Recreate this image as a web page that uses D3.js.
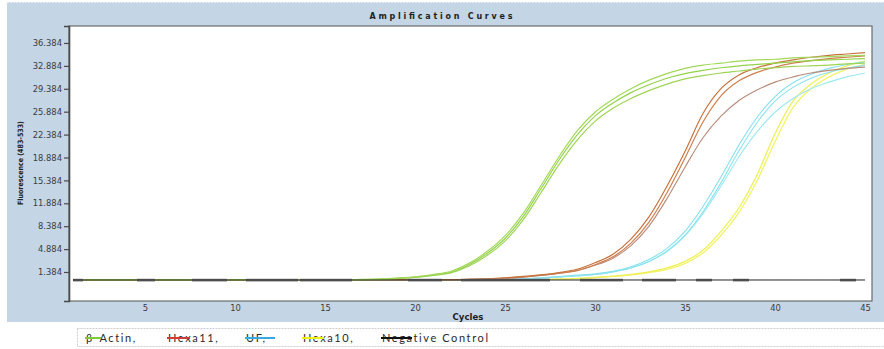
<!DOCTYPE html>
<html>
<head>
<meta charset="utf-8">
<script src="https://cdn.jsdelivr.net/npm/d3@7"></script>
<style>
  body { margin: 0; background: #ffffff; }
  svg { display: block; }
</style>
</head>
<body>
<svg id="chart" width="884" height="349"></svg>
<script>
// Cycle numbers 1..45
const cycles = [1,2,3,4,5,6,7,8,9,10,11,12,13,14,15,16,17,18,19,20,21,22,23,24,25,26,27,28,29,30,31,32,33,34,35,36,37,38,39,40,41,42,43,44,45];

// Fluorescence (483-533) per cycle, one array per well
const actinA = [0.2,0.2,0.2,0.2,0.2,0.2,0.2,0.2,0.2,0.2,0.2,0.2,0.2,0.2,0.2,0.2,
  0.25,0.3,0.45,0.65,1.0,1.5,2.7,4.5,6.9,10.3,14.6,19.0,22.9,25.8,27.8,29.4,30.7,31.7,32.5,33.0,33.3,33.6,33.8,33.9,34.1,34.2,34.3,34.4,34.5];
const actinB = [0.2,0.2,0.2,0.2,0.2,0.2,0.2,0.2,0.2,0.2,0.2,0.2,0.2,0.2,0.2,0.2,
  0.22,0.28,0.4,0.6,0.9,1.35,2.5,4.2,6.5,9.8,14.1,18.5,22.3,25.2,27.2,28.8,30.0,31.0,31.7,32.2,32.6,32.9,33.1,33.3,33.5,33.7,33.8,33.9,34.0];
const actinC = [0.2,0.2,0.2,0.2,0.2,0.2,0.2,0.2,0.2,0.2,0.2,0.2,0.2,0.2,0.2,0.2,
  0.22,0.26,0.38,0.55,0.85,1.25,2.3,3.9,6.1,9.3,13.5,17.8,21.5,24.4,26.4,27.9,29.1,30.1,30.9,31.4,31.8,32.1,32.4,32.6,32.8,32.9,33.0,33.2,33.3];

const hexa11A = [0.2,0.2,0.2,0.2,0.2,0.2,0.2,0.2,0.2,0.2,0.2,0.2,0.2,0.2,0.2,0.2,0.2,0.2,0.2,0.2,0.2,0.2,
  0.25,0.35,0.5,0.7,0.95,1.3,1.8,2.8,4.1,6.4,9.8,14.5,19.8,25.6,29.4,31.5,32.6,33.3,33.8,34.2,34.5,34.7,34.9];
const hexa11B = [0.2,0.2,0.2,0.2,0.2,0.2,0.2,0.2,0.2,0.2,0.2,0.2,0.2,0.2,0.2,0.2,0.2,0.2,0.2,0.2,0.2,0.2,
  0.24,0.32,0.45,0.65,0.9,1.2,1.6,2.5,3.7,5.8,9.0,13.5,18.8,24.3,28.3,30.6,31.9,32.7,33.3,33.7,34.0,34.2,34.4];
const hexa11C = [0.2,0.2,0.2,0.2,0.2,0.2,0.2,0.2,0.2,0.2,0.2,0.2,0.2,0.2,0.2,0.2,0.2,0.2,0.2,0.2,0.2,0.2,
  0.24,0.3,0.42,0.6,0.85,1.15,1.6,2.4,3.5,5.4,8.4,12.6,17.4,21.9,25.2,27.6,29.2,30.4,31.2,31.8,32.2,32.5,32.7];

const ufA = [0.2,0.2,0.2,0.2,0.2,0.2,0.2,0.2,0.2,0.2,0.2,0.2,0.2,0.2,0.2,0.2,0.2,0.2,0.2,0.2,0.2,0.2,0.2,0.2,
  0.25,0.35,0.5,0.7,0.9,1.1,1.5,2.2,3.3,5.0,7.6,11.4,15.9,20.8,25.0,28.2,30.3,31.6,32.5,33.1,33.5];
const ufB = [0.2,0.2,0.2,0.2,0.2,0.2,0.2,0.2,0.2,0.2,0.2,0.2,0.2,0.2,0.2,0.2,0.2,0.2,0.2,0.2,0.2,0.2,0.2,0.2,
  0.24,0.32,0.45,0.62,0.8,1.0,1.4,2.0,3.0,4.6,7.0,10.6,15.0,19.9,24.2,27.5,29.6,31.0,31.9,32.5,33.0];
const ufC = [0.2,0.2,0.2,0.2,0.2,0.2,0.2,0.2,0.2,0.2,0.2,0.2,0.2,0.2,0.2,0.2,0.2,0.2,0.2,0.2,0.2,0.2,0.2,0.2,
  0.24,0.3,0.42,0.6,0.78,1.0,1.4,2.0,3.0,4.5,6.9,10.3,14.5,19.0,22.8,25.8,27.9,29.4,30.4,31.2,31.8];

const hexa10A = [0.2,0.2,0.2,0.2,0.2,0.2,0.2,0.2,0.2,0.2,0.2,0.2,0.2,0.2,0.2,0.2,0.2,0.2,0.2,0.2,0.2,0.2,0.2,0.2,0.2,0.2,
  0.25,0.3,0.4,0.55,0.75,1.0,1.4,2.0,3.0,4.7,7.6,11.2,16.2,22.5,27.5,30.1,31.8,32.9,33.6];
const hexa10B = [0.2,0.2,0.2,0.2,0.2,0.2,0.2,0.2,0.2,0.2,0.2,0.2,0.2,0.2,0.2,0.2,0.2,0.2,0.2,0.2,0.2,0.2,0.2,0.2,0.2,0.2,
  0.24,0.28,0.36,0.5,0.7,0.95,1.3,1.8,2.7,4.3,7.0,10.5,15.3,21.3,26.5,29.4,31.2,32.4,33.1];

const negativeA = [0.16,0.16,0.16,0.16,0.16,0.16,0.16,0.16,0.16,0.16,0.16,0.16,0.16,0.16,0.16,0.16,0.16,0.16,0.16,0.16,0.16,0.16,0.16,
  0.16,0.16,0.16,0.16,0.16,0.16,0.16,0.16,0.16,0.16,0.16,0.16,0.16,0.16,0.16,0.16,0.16,0.16,0.16,0.16,0.16,0.16];
const negativeB = [0.14,0.14,0.14,0.14,0.14,0.14,0.14,0.14,0.14,0.14,0.14,0.14,0.14,0.14,0.14,0.14,0.14,0.14,0.14,0.14,0.14,0.14,0.14,
  0.14,0.14,0.14,0.14,0.14,0.14,0.14,0.14,0.14,0.14,0.14,0.14,0.14,0.14,0.14,0.14,0.14,0.14,0.14,0.14,0.14,0.14];

// Axis ticks
const xTickValues = [5, 10, 15, 20, 25, 30, 35, 40, 45];
const yTickValues = [1.384, 4.884, 8.384, 11.884, 15.384, 18.884, 22.384, 25.884, 29.384, 32.884, 36.384];

// Legend entries
const legendLabels = ["\u03B2-Actin,", "Hexa11,", "UF,", "Hexa10,", "Negative Control"];

// ---- drawing ----
const svg = d3.select("#chart");
const plot = { left: 69, right: 872, top: 26, bottom: 301 };

// window background
svg.append("rect").attr("x", 7).attr("y", 2).attr("width", 884).attr("height", 320)
  .attr("fill", "#c4d5e6");
svg.append("line").attr("x1", 7).attr("x2", 884).attr("y1", 2.5).attr("y2", 2.5)
  .attr("stroke", "#e3ebf3").attr("stroke-dasharray", "2,1");

// title
svg.append("text").attr("x", 441).attr("y", 19)
  .attr("text-anchor", "middle")
  .attr("font-family", "DejaVu Sans, sans-serif").attr("font-weight", "bold")
  .attr("font-size", 8).attr("fill", "#1e1e1e")
  .attr("textLength", 143).attr("lengthAdjust", "spacing")
  .text("Amplification Curves");

// plotting area
svg.append("rect").attr("x", plot.left).attr("y", plot.top)
  .attr("width", plot.right - plot.left).attr("height", plot.bottom - plot.top)
  .attr("fill", "#ffffff").attr("stroke", "#6c6c6c").attr("stroke-width", 1.2);

const x = d3.scaleLinear().domain([0.78, 45.39]).range([plot.left, plot.right]);
const y = d3.scaleLinear().domain([-3.05, 38.98]).range([plot.bottom, plot.top]);

// y axis
const yAxis = svg.append("g").attr("transform", `translate(${plot.left},0)`)
  .call(d3.axisLeft(y).tickValues(yTickValues).tickFormat(d3.format(".3f")).tickSize(5).tickPadding(2));
yAxis.select(".domain").attr("stroke", "#4a4a4a").attr("stroke-width", 1.6);
yAxis.selectAll(".tick line").attr("stroke", "#4a4a4a").attr("stroke-width", 1.2);
yAxis.selectAll(".tick text").attr("font-family", "DejaVu Sans, sans-serif")
  .attr("font-size", 8.4).attr("fill", "#3c3c3c");

// x axis
const xAxis = svg.append("g").attr("transform", `translate(0,${plot.bottom})`)
  .call(d3.axisBottom(x).tickValues(xTickValues).tickSize(0).tickPadding(4));
xAxis.select(".domain").remove();
xAxis.selectAll(".tick text").attr("font-family", "DejaVu Sans, sans-serif")
  .attr("font-size", 8.4).attr("fill", "#3c3c3c");

// axis titles
svg.append("text").attr("x", 468).attr("y", 320)
  .attr("text-anchor", "middle")
  .attr("font-family", "DejaVu Sans, sans-serif").attr("font-weight", "bold")
  .attr("font-size", 8.6).attr("fill", "#1e1e1e")
  .text("Cycles");
svg.append("text")
  .attr("transform", "translate(23,163) rotate(-90)")
  .attr("text-anchor", "middle")
  .attr("font-family", "DejaVu Sans Condensed, DejaVu Sans, sans-serif").attr("font-weight", "bold")
  .attr("font-size", 7.4).attr("fill", "#1e1e1e")
  .attr("textLength", 84).attr("lengthAdjust", "spacingAndGlyphs")
  .text("Fluorescence (483-533)");

// curves
svg.append("clipPath").attr("id", "plotClip").append("rect")
  .attr("x", plot.left + 1).attr("y", plot.top + 1)
  .attr("width", plot.right - plot.left - 2).attr("height", plot.bottom - plot.top - 2);

const line = d3.line().x((d, i) => x(cycles[i])).y(d => y(d)).curve(d3.curveMonotoneX);

const wells = [
  { values: hexa10B, color: "#f3f36a", width: 1.3 },
  { values: hexa10A, color: "#eef05a", width: 1.3 },
  { values: ufC, color: "#9ce8f2", width: 1.1 },
  { values: ufB, color: "#8ae3ef", width: 1.1 },
  { values: ufA, color: "#86e0ee", width: 1.1 },
  { values: hexa11C, color: "#b98a78", width: 1.1 },
  { values: hexa11B, color: "#cf7f4e", width: 1.2 },
  { values: hexa11A, color: "#c8733f", width: 1.2 },
  { values: actinC, color: "#9fd455", width: 1.2 },
  { values: actinB, color: "#94d24a", width: 1.2 },
  { values: actinA, color: "#a2d85a", width: 1.2 }
];

const curves = svg.append("g").attr("clip-path", "url(#plotClip)");
curves.selectAll("path.well").data(wells).join("path")
  .attr("class", "well")
  .attr("d", d => line(d.values))
  .attr("fill", "none")
  .attr("stroke", d => d.color)
  .attr("stroke-width", d => d.width)
  .attr("stroke-linejoin", "round");

// negative controls: thin black trace plus overlapping grey replicate segments
curves.append("path").attr("d", line(negativeB))
  .attr("fill", "none").attr("stroke", "#7a7a7a").attr("stroke-width", 2.6)
  .attr("stroke-dasharray", "10,54,18,37,35,19,52,2,52,56,34,19,89,30,43,19,34,20,16,21,16,91,16,100");
curves.append("path").attr("d", line(negativeA))
  .attr("fill", "none").attr("stroke", "#222222").attr("stroke-width", 1);

// legend
svg.append("rect").attr("x", 77.5).attr("y", 328.5).attr("width", 820).attr("height", 18)
  .attr("fill", "#ffffff").attr("stroke", "#cfcfcf").attr("stroke-dasharray", "2,1");

const legendItems = [
  { label: legendLabels[0], x: 86, color: "#7ccc3a", lineTo: 101 },
  { label: legendLabels[1], x: 168, color: "#d23b3b", lineTo: 190 },
  { label: legendLabels[2], x: 246, color: "#35a9e0", lineTo: 275 },
  { label: legendLabels[3], x: 303, color: "#f2ee14", lineTo: 324 },
  { label: legendLabels[4], x: 382, color: "#111111", lineTo: 412 }
];
const lg = svg.append("g");
const items = lg.selectAll("g").data(legendItems).join("g");
items.append("text")
  .attr("x", d => d.x).attr("y", 342)
  .attr("font-family", "Lato, sans-serif").attr("font-size", 11)
  .attr("letter-spacing", 1.6).attr("fill", "#2a2a2a")
  .text(d => d.label);
items.append("line")
  .attr("x1", d => d.x - 1).attr("x2", d => d.lineTo)
  .attr("y1", 338).attr("y2", 338)
  .attr("stroke", d => d.color).attr("stroke-width", 2);
</script>
</body>
</html>
